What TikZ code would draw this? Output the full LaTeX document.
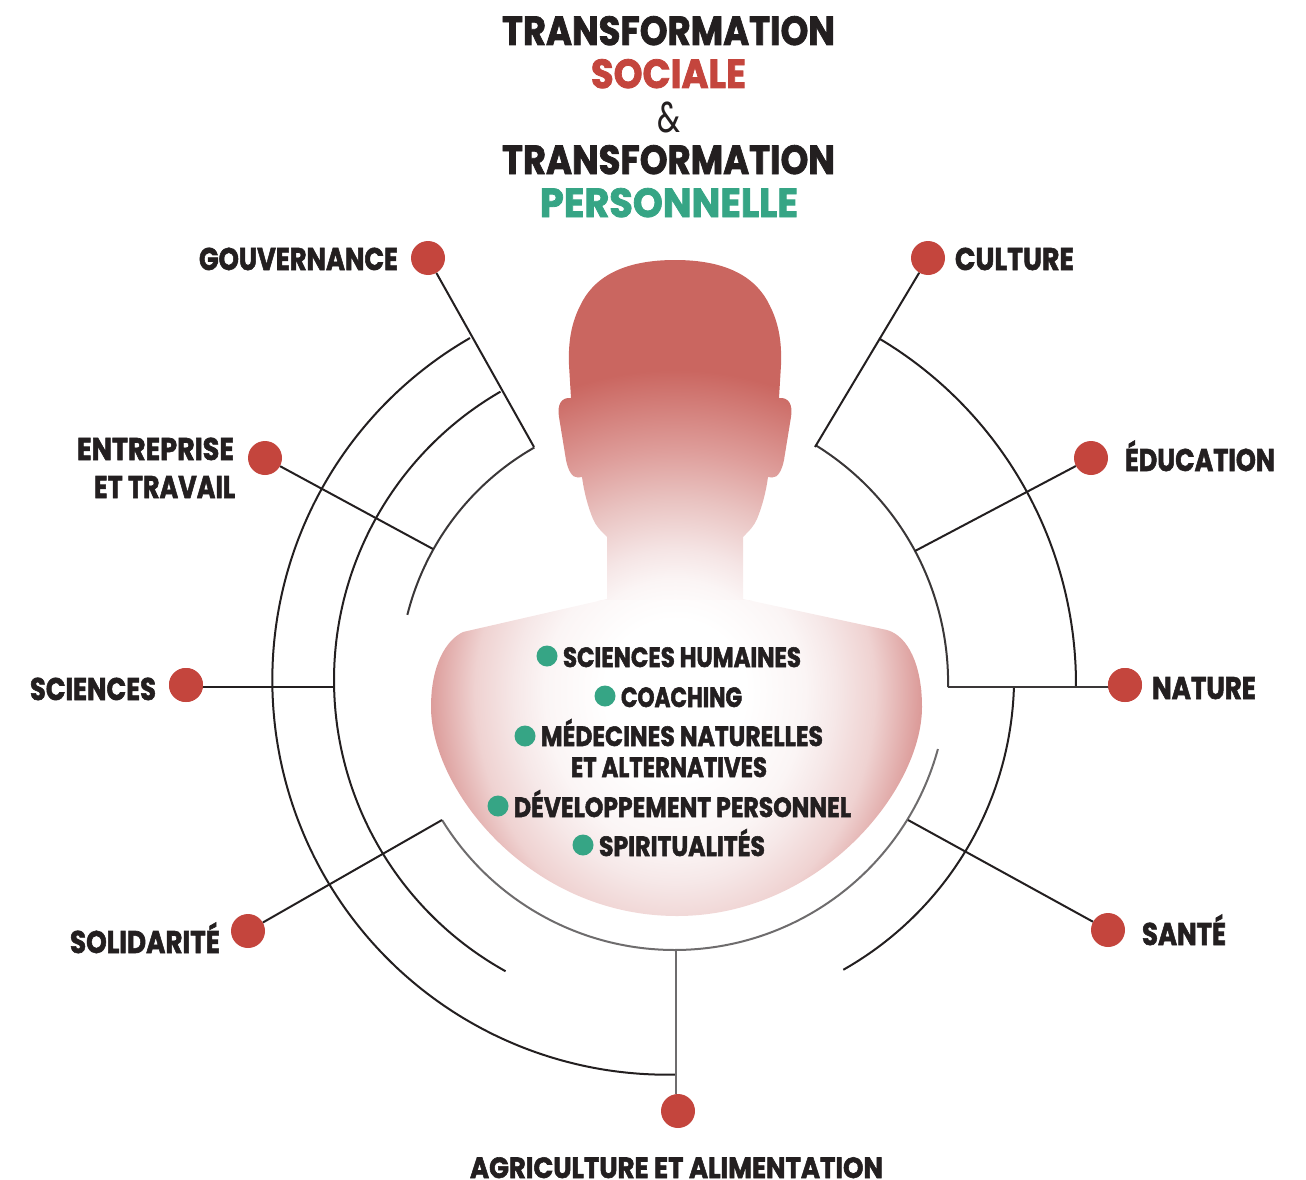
\documentclass[tikz,border=0pt]{standalone}
\usepackage{graphicx}
\usepackage{fontspec}
\setmainfont{Poppins}
\newfontfamily\heavy[BoldFeatures={FakeBold=2}]{Poppins}
\usetikzlibrary{calc}
\definecolor{ink}{HTML}{231F20}
\definecolor{redd}{HTML}{C4453D}
\definecolor{greenn}{HTML}{36A585}
\definecolor{headc}{HTML}{CA6660}
\definecolor{midc}{HTML}{DC9C9A}
\definecolor{softc}{HTML}{EFD2D1}
\definecolor{paleC}{HTML}{F6E8E8}
\definecolor{hA}{HTML}{FBF5F5}
\definecolor{hB}{HTML}{F5E5E5}
\definecolor{hC}{HTML}{E9C3C1}
\definecolor{hD}{HTML}{DE9D9A}
\definecolor{darkline}{HTML}{3A3738}
\definecolor{greyline}{HTML}{6E6C6D}
\pgfdeclareradialshading{bodyshade}{\pgfpoint{0bp}{0bp}}{%
  color(0bp)=(white);color(3.5bp)=(white);color(6.5bp)=(hA);color(8bp)=(paleC);color(10bp)=(softc);color(12.25bp)=(midc);color(16bp)=(headc);color(50bp)=(headc)}
\pgfdeclareradialshading{headshade}{\pgfpoint{0bp}{0bp}}{%
  color(0bp)=(white);color(3.5bp)=(white);color(5.5bp)=(hA);color(7bp)=(hB);color(9.5bp)=(hC);color(12bp)=(hD);color(16bp)=(headc);color(50bp)=(headc)}
\newcommand{\fitted}[3]{% width, cap height, text
  \setbox0=\hbox{#3}\setbox2=\hbox{H}%
  \pgfmathsetmacro\fitsx{#1/\the\wd0}\pgfmathsetmacro\fitsy{#2/\the\ht2}%
  \scalebox{\fitsx}[\fitsy]{\box0}}
\newcommand{\ringarc}[6]{% cx cy R a b style
  \draw[#6] plot[domain=#4:#5,samples=90,smooth] ({#1+#3*cos(\x)},{#2+#3*sin(\x)});}
\tikzset{
  reddot/.style={circle,fill=redd,draw=none,minimum size=34pt,inner sep=0pt},
  greendot/.style={circle,fill=greenn,draw=none,minimum size=21pt,inner sep=0pt},
  txt/.style={anchor=base west,inner sep=0pt,outer sep=0pt,text=ink,font=\heavy\bfseries\fontsize{20}{22}\selectfont},
  blackline/.style={draw=darkline,line width=2pt},
  thinline/.style={draw=ink,line width=2pt},
  softline/.style={draw=greyline,line width=2pt},
}
\newcommand{\bodyclip}{
  (607,537) .. controls (600,530) and (596,526) .. (593,519)
  .. controls (588,507) and (584,492) .. (582,477)
  -- (578,477.5) .. controls (572,478) and (568,470) .. (566,460)
  -- (559,417) .. controls (557,405) and (561,397) .. (571,398)
  -- (569,365) .. controls (568,340) and (572,322) .. (580,306)
  .. controls (593,278) and (622,260) .. (675,260)
  .. controls (728,260) and (757,278) .. (770,306)
  .. controls (778,322) and (782,340) .. (781,365)
  -- (779,398) .. controls (789,397) and (793,405) .. (791,417)
  -- (784,460) .. controls (782,470) and (778,478) .. (772,477.5)
  -- (768,477) .. controls (766,492) and (762,507) .. (757,519)
  .. controls (754,526) and (750,530) .. (743,537)
  -- (743,599) -- (887,630)
  .. controls (908,636) and (922,665) .. (922,707)
  .. controls (922,790) and (820,916) .. (677,916)
  .. controls (530,916) and (431,790) .. (431,707)
  .. controls (431,665) and (446,640) .. (463,632)
  -- (607,599) -- cycle}
\begin{document}
\begin{tikzpicture}[x=1pt,y=-1pt]
\useasboundingbox (0,0) rectangle (1306,1180);
% figure
\begin{scope}
  \expandafter\clip\bodyclip;
  \begin{scope}
    \clip (400,240) rectangle (950,600.5);
    \path[shading=headshade] (675,690) circle (500);
  \end{scope}
  \begin{scope}
    \clip (400,600) rectangle (950,690.5);
    \path[shading=bodyshade] (675,690) circle (500);
  \end{scope}
  \begin{scope}
    \clip (400,690) rectangle (950,930);
    \path[shading=bodyshade] (675,690) ellipse [x radius=500,y radius=600];
  \end{scope}
\end{scope}
% arcs
\ringarc{667}{680}{394.7}{88.8}{240.06}{thinline}
\ringarc{667}{680}{333}{119}{240}{thinline}
\ringarc{667}{680}{267.7}{194.1}{240.3}{blackline}
\ringarc{674.6}{677}{273}{15.3}{148.4}{softline}
\ringarc{669}{682.7}{279.1}{-58.2}{0.9}{blackline}
\ringarc{673.5}{684.5}{402.5}{-59.3}{0.4}{thinline}
\ringarc{677.6}{676.9}{336.5}{1.7}{60.5}{thinline}
% junction points
\coordinate (jgov) at (534,447);
\coordinate (jent) at (433,549);
\coordinate (jsci) at (334,687);
\coordinate (jsol) at (442,820);
\coordinate (jagr) at (676,950);
\coordinate (jsan) at (908,820);
\coordinate (jnat) at (948,687);
\coordinate (jedu) at (915,551);
\coordinate (jcul) at (815,447);
% red dots
\node[reddot] (gov) at (428,258) {};
\node[reddot] (cul) at (928,258) {};
\node[reddot] (ent) at (265,458) {};
\node[reddot] (edu) at (1091,458) {};
\node[reddot] (sci) at (186,685) {};
\node[reddot] (nat) at (1125,685) {};
\node[reddot] (sol) at (248,931) {};
\node[reddot] (san) at (1108,930) {};
\node[reddot] (agr) at (678,1111) {};
% connectors
\draw[thinline] (gov) -- (jgov);
\draw[thinline] (cul) -- (jcul);
\draw[thinline] (ent) -- (jent);
\draw[thinline] (edu) -- (jedu);
\draw[thinline] (sci.center |- jsci) -- (jsci);
\draw[blackline] (nat.center |- jnat) -- (jnat);
\draw[thinline] (sol) -- (jsol);
\draw[thinline] (san) -- (jsan);
\draw[softline] (jagr |- agr.north) -- (jagr);
\node[reddot] at (sci) {};
\node[reddot] at (nat) {};
% title
\node[txt] (t1) at (502,45) {\fitted{333}{28.5}{TRANSFORMATION}};
\node[txt,text=redd] (t2) at (591,88) {\fitted{155}{28.5}{SOCIALE}};
\node[anchor=base west,inner sep=0pt,text=ink] (t3) at (657,132) {\fitted{23}{30}{\&}};
\node[txt] (t4) at (502,174) {\fitted{333}{28.5}{TRANSFORMATION}};
\node[txt,text=greenn] (t5) at (540,217) {\fitted{258}{28.5}{PERSONNELLE}};
% outer labels
\node[txt] (lgov) at (199,270) {\fitted{199}{22}{GOUVERNANCE}};
\node[txt] (lcul) at (955,270) {\fitted{119}{22}{CULTURE}};
\node[txt] (lent) at (77,460) {\fitted{157}{22}{ENTREPRISE}};
\node[txt] (lent2) at (94,498) {\fitted{141}{22}{ET TRAVAIL}};
\node[txt] (ledu) at (1125,471) {\fitted{150}{22}{ÉDUCATION}};
\node[txt] (lsci) at (30,700) {\fitted{126}{22}{SCIENCES}};
\node[txt] (lnat) at (1152,699) {\fitted{104}{22}{NATURE}};
\node[txt] (lsol) at (70,953) {\fitted{150}{22}{SOLIDARITÉ}};
\node[txt] (lsan) at (1142,945) {\fitted{84}{22}{SANTÉ}};
\node[txt] (lagr) at (470,1178) {\fitted{413}{20.5}{AGRICULTURE ET ALIMENTATION}};
% list inside the figure
\node[greendot] (g1) at (547,656) {};
\node[greendot] (g2) at (605,696) {};
\node[greendot] (g3) at (525,736) {};
\node[greendot] (g4) at (498,806) {};
\node[greendot] (g5) at (583,845) {};
\node[txt] (b1) at (563,667) {\fitted{238}{19.5}{SCIENCES HUMAINES}};
\node[txt] (b2) at (621,707) {\fitted{121}{19.5}{COACHING}};
\node[txt] (b3) at (541,746) {\fitted{282}{19.5}{MÉDECINES NATURELLES}};
\node[txt] (b4) at (571,777) {\fitted{196}{19.5}{ET ALTERNATIVES}};
\node[txt] (b5) at (514,817) {\fitted{337}{19.5}{DÉVELOPPEMENT PERSONNEL}};
\node[txt] (b6) at (599,856) {\fitted{166}{19.5}{SPIRITUALITÉS}};
\end{tikzpicture}
\end{document}
